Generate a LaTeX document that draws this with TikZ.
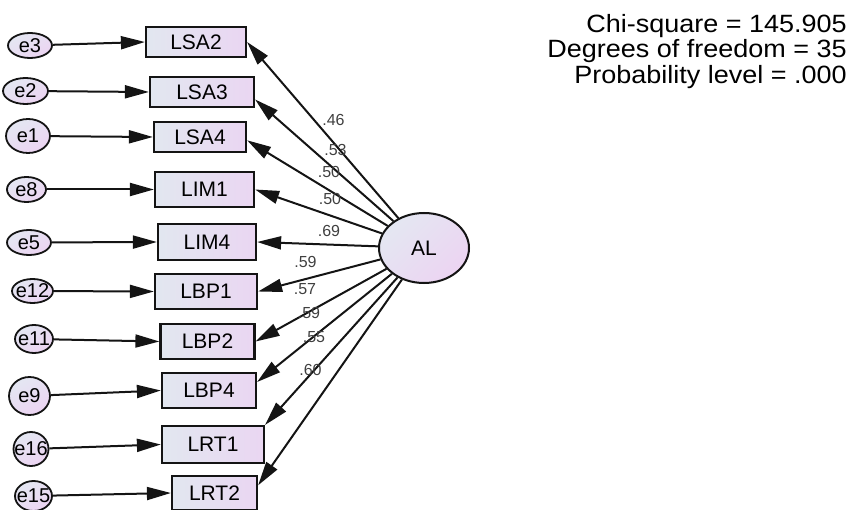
\documentclass[tikz,border=0pt]{standalone}
\usepackage{fontspec}
\setmainfont{Liberation Sans}
\newfontfamily\statfont[FakeStretch=1.08]{Liberation Sans}
\usetikzlibrary{arrows.meta,shapes.geometric}

\definecolor{boxL}{RGB}{226,231,240}
\definecolor{boxR}{RGB}{234,214,242}
\definecolor{ovT}{RGB}{228,231,242}
\definecolor{ovB}{RGB}{236,212,242}
\definecolor{ink}{RGB}{20,20,20}

\tikzset{
  obs/.style={draw=ink, line width=2.2pt, left color=boxL, right color=boxR,
    inner sep=0pt, font=\fontsize{21}{21}\selectfont},
  err/.style={ellipse, draw=ink, line width=1.8pt, top color=ovT, bottom color=ovB,
    shading angle=30, inner sep=0pt, font=\fontsize{20}{20}\selectfont},
  lat/.style={ellipse, draw=ink, line width=2pt, top color=ovT, bottom color=ovB,
    shading angle=45, inner sep=0pt, font=\fontsize{21}{21}\selectfont},
  regpath/.style={-{Triangle[length=24pt,width=13pt]}, line width=2pt, draw=ink},
  coef/.style={inner sep=0pt, text=black!75, font=\fontsize{16}{16}\selectfont},
  stat/.style={anchor=base east, inner sep=0pt, font=\statfont\fontsize{25}{25}\selectfont}
}

\begin{document}
\begin{tikzpicture}[x=1pt,y=-1pt]
\useasboundingbox (0,0) rectangle (853,510);

% observed indicators
\node[obs, minimum width=100pt, minimum height=30pt] (LSA2) at (196,42)    {LSA2};
\node[obs, minimum width=104pt, minimum height=30pt] (LSA3) at (202,92)    {LSA3};
\node[obs, minimum width=92pt,  minimum height=30pt] (LSA4) at (200,137)   {LSA4};
\node[obs, minimum width=99pt,  minimum height=35pt] (LIM1) at (204.5,189.5) {LIM1};
\node[obs, minimum width=98pt,  minimum height=36pt] (LIM4) at (207,242)   {LIM4};
\node[obs, minimum width=102pt, minimum height=35pt] (LBP1) at (206,291.5) {LBP1};
\node[obs, minimum width=94pt,  minimum height=35pt] (LBP2) at (207.5,341.5) {LBP2};
\node[obs, minimum width=94pt,  minimum height=35pt] (LBP4) at (209,390.5) {LBP4};
\node[obs, minimum width=102pt, minimum height=37pt] (LRT1) at (213,444.5) {LRT1};
\node[obs, minimum width=85pt,  minimum height=34pt] (LRT2) at (214.5,493) {LRT2};

% error terms
\node[err, minimum width=44pt, minimum height=25pt] (e3)  at (30,45.5)  {\makebox[0pt]{e3}};
\node[err, minimum width=45pt, minimum height=26pt] (e2)  at (25.5,91)  {\makebox[0pt]{e2}};
\node[err, minimum width=44pt, minimum height=34pt] (e1)  at (28,136)   {\makebox[0pt]{e1}};
\node[err, minimum width=39pt, minimum height=25pt] (e8)  at (26.5,189.5) {\makebox[0pt]{e8}};
\node[err, minimum width=44pt, minimum height=25pt] (e5)  at (29,242.5) {\makebox[0pt]{e5}};
\node[err, minimum width=41pt, minimum height=24pt] (e12) at (32.5,291) {\makebox[0pt]{e12}};
\node[err, minimum width=38pt, minimum height=28pt] (e11) at (34,339)   {\makebox[0pt]{e11}};
\node[err, minimum width=41pt, minimum height=38pt] (e9)  at (29.5,396) {\makebox[0pt]{e9}};
\node[err, minimum width=35pt, minimum height=34pt] (e16) at (31,449)   {\makebox[0pt]{e16}};
\node[err, minimum width=37pt, minimum height=30pt] (e15) at (33.5,496) {\makebox[0pt]{e15}};

% latent factor
\node[lat, minimum width=90pt, minimum height=70pt] (AL) at (424,248) {AL};

% error paths
\draw[regpath] (e3)  -- (LSA2.west);
\draw[regpath] (e2)  -- (LSA3.west);
\draw[regpath] (e1)  -- (LSA4.west);
\draw[regpath] (e8)  -- (LIM1.west);
\draw[regpath] (e5)  -- (LIM4.west);
\draw[regpath] (e12) -- (LBP1.west);
\draw[regpath] (e11) -- (LBP2.west);
\draw[regpath] (e9)  -- (LBP4.west);
\draw[regpath] (e16) -- (LRT1.west);
\draw[regpath] (e15) -- (LRT2.west);

% factor loadings
\draw[regpath] (AL) -- (LSA2.east);
\draw[regpath] (AL) -- (LSA3.-8);
\draw[regpath] (AL) -- (LSA4.-4);
\draw[regpath] (AL) -- (LIM1.east);
\draw[regpath] (AL) -- (LIM4.east);
\draw[regpath] (AL) -- (LBP1.east);
\draw[regpath] (AL) -- (LBP2.east);
\draw[regpath] (AL) -- (LBP4.10);
\draw[regpath] (AL) -- (LRT1.north east);
\draw[regpath] (AL) -- (LRT2.10);

% standardized estimates
\node[coef] (c1)  at (333.5,120) {.46};
\node[coef] (c2)  at (335.5,150) {.53};
\node[coef] (c3)  at (329,172)   {.50};
\node[coef] (c4)  at (330,199)   {.50};
\node[coef] (c5)  at (329,231)   {.69};
\node[coef] (c6)  at (305.5,262) {.59};
\node[coef] (c7)  at (305,289)   {.57};
\node[coef] (c8)  at (309,312.5) {.59};
\node[coef] (c9)  at (314,337)   {.55};
\node[coef] (c10) at (310.5,369.5) {.60};

% fit statistics
\node[stat] (chi) at (847,33) {Chi-square = 145.905};
\node[stat] (dof) at (847,58) {Degrees of freedom = 35};
\node[stat] (prb) at (847,83.5) {Probability level = .000};
\end{tikzpicture}
\end{document}
